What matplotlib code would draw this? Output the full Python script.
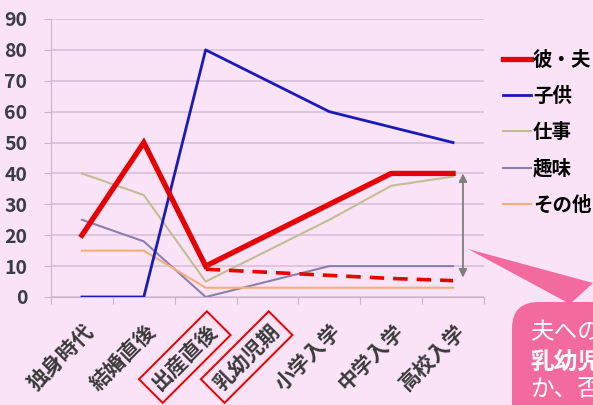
import matplotlib
matplotlib.use("Agg")
import matplotlib.pyplot as plt
from matplotlib.patches import FancyBboxPatch, Polygon

plt.rcParams['font.family'] = ['Noto Sans CJK JP', 'DejaVu Sans']

# data
stages = ['独身時代', '結婚直後', '出産直後', '乳幼児期', '小学入学', '中学入学', '高校入学']
husband = [20, 50, 10, 20, 30, 40, 40]
child = [0, 0, 80, 70, 60, 55, 50]
work = [40, 33, 5, 15, 25, 36, 39]
hobby = [25, 18, 0, 5, 10, 10, 10]
other = [15, 15, 3, 3, 3, 3, 3]
# dashed red line (after birth, staying low)
dash_idx = [2, 3, 4, 5, 6]
dash_vals = [9, 8, 7, 6, 5.3]
boxed = ['出産直後', '乳幼児期']

bg = '#fae3f7'
fig = plt.figure(figsize=(5.93, 4.05), dpi=100, facecolor=bg)
ax = fig.add_axes([51/593, 1-297/405, (484-51)/593, (297-19)/405])
ax.set_facecolor(bg)

x = list(range(len(stages)))
ax.plot(x, husband, color='#e60000', lw=3.8, label='彼・夫', solid_joinstyle='miter', zorder=5)
ax.plot(x, child, color='#1a1ab8', lw=2.0, label='子供', zorder=4)
ax.plot(x, work, color='#c3bd94', lw=1.5, label='仕事', zorder=3)
ax.plot(x, hobby, color='#8b7fae', lw=1.5, label='趣味', zorder=3)
ax.plot(x, other, color='#f4ae7c', lw=1.5, label='その他', zorder=3)
ax.plot(dash_idx, dash_vals, color='#e60000', lw=2.6, ls=(0, (4, 2.5)), zorder=5)

ax.set_xlim(-0.5, len(stages) - 0.5)
ax.set_ylim(0, 90)
ax.set_yticks(range(0, 91, 10))
ax.grid(axis='y', color='#d9bfd9', lw=1.2)
ax.set_axisbelow(True)
for s in ['top', 'right']:
    ax.spines[s].set_visible(False)
ax.spines['left'].set_color('#c8b6c8')
ax.spines['bottom'].set_color('#c8b6c8')
ax.tick_params(axis='y', length=5, color='#c8b6c8', labelsize=14, labelcolor='#3c3c48', pad=12)
for lab in ax.get_yticklabels():
    lab.set_fontweight('bold')
ax.set_xticks([i + 0.5 for i in range(-1, len(stages))], minor=False)
ax.set_xticklabels([])
ax.tick_params(axis='x', length=5, color='#c8b6c8')
for i, s in enumerate(stages):
    t = ax.text(i + 0.02, -7.5, s, rotation=45, ha='right', va='top', fontsize=15,
                color='#3a3a3a', rotation_mode='anchor', weight='bold')
    if s in boxed:
        t.set_bbox(dict(boxstyle='square,pad=0.3', fc='none', ec='#ee0000', lw=1.4))

# gray double arrow
ax.annotate('', xy=(6.16, 40), xytext=(6.16, 6.3),
            arrowprops=dict(arrowstyle='<|-|>', color='#7f7f7f', lw=1.3,
                            shrinkA=0, shrinkB=0, mutation_scale=12))

fig.legend(loc='upper left', bbox_to_anchor=(495/593, 1-43/405), frameon=False,
           handlelength=1.45, handletextpad=0.1, labelspacing=0.88,
           borderaxespad=0, prop={'weight': 'bold', 'size': 14})

# pink callout
pink = '#f26a9e'
tail = Polygon([(468/593, 1-249/405), (593/593, 1-283/405), (570/593, 1-304/405)],
               closed=True, transform=fig.transFigure, fc=pink, ec='none')
fig.patches.append(tail)
box = FancyBboxPatch((512/593, -0.1), 0.3, 1-302/405 + 0.1,
                     boxstyle='round,pad=0,rounding_size=0.045',
                     transform=fig.transFigure, fc=pink, ec='none', mutation_aspect=1.46)
fig.patches.append(box)
fig.text(530/593, 1-333/405, '夫への', color='white', fontsize=17, va='center')
fig.text(530/593, 1-362/405, '乳幼児', color='white', fontsize=17, va='center', weight='bold')
fig.text(530/593, 1-389/405, 'か、否', color='white', fontsize=17, va='center')

fig.savefig('out.png', dpi=100, facecolor=bg)
